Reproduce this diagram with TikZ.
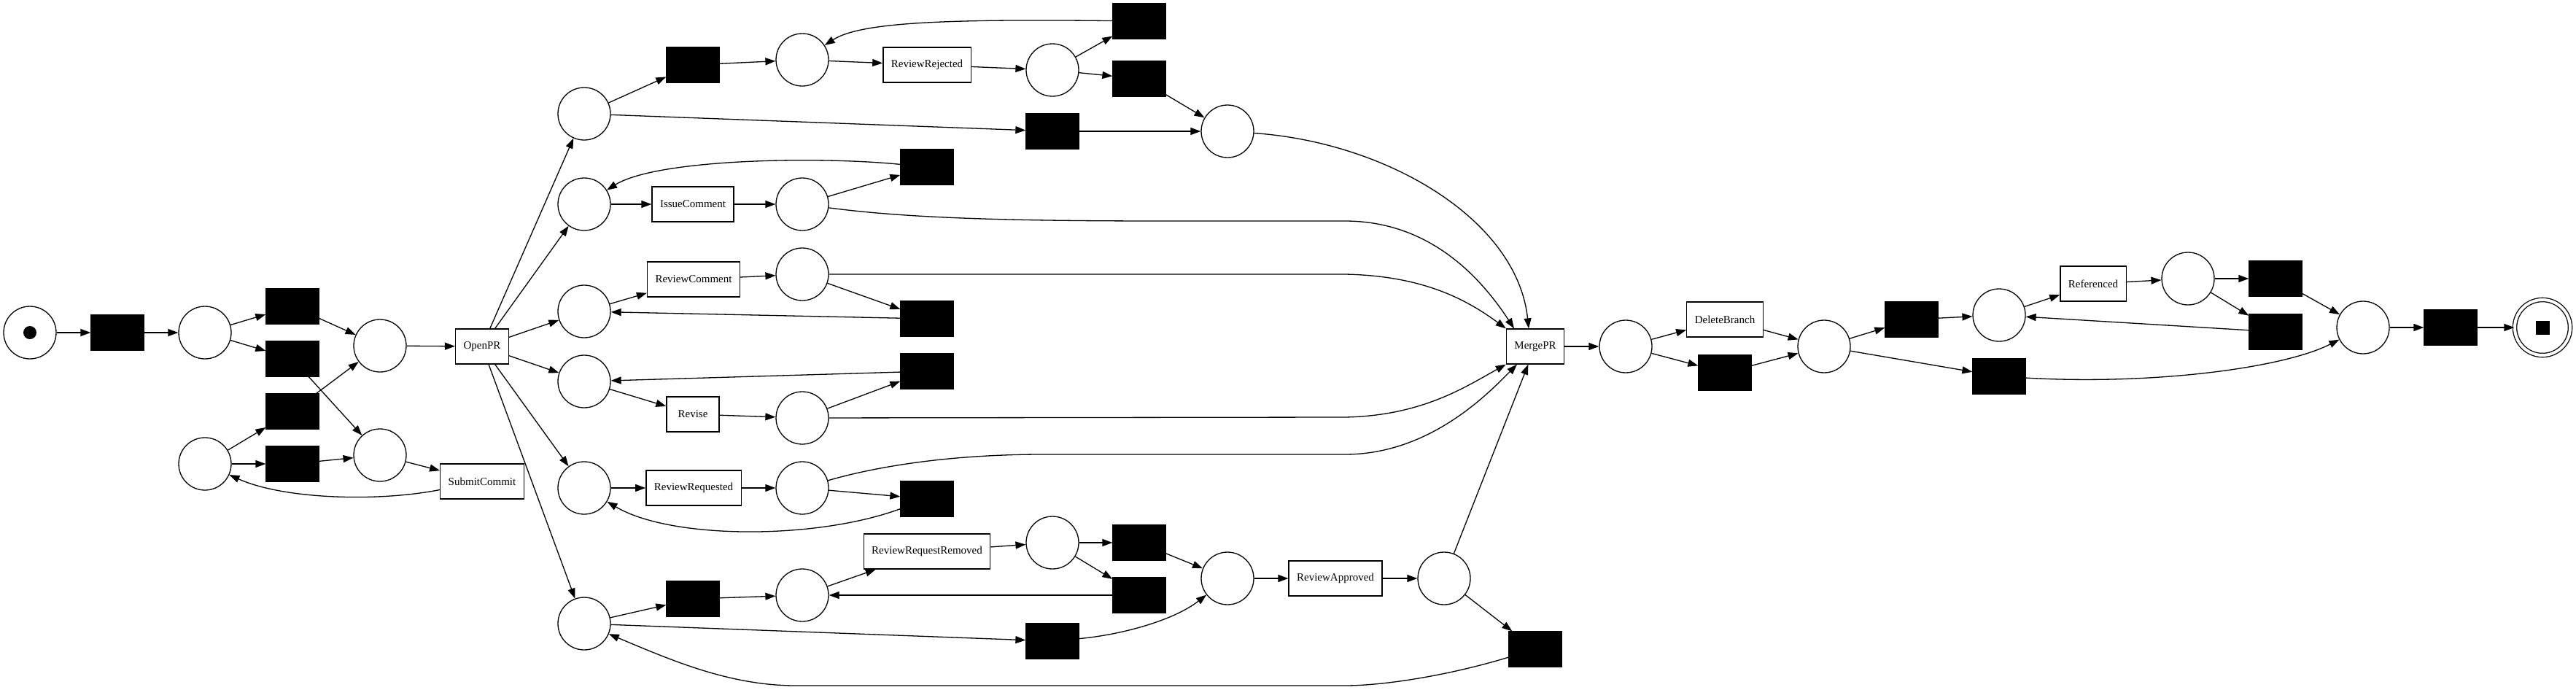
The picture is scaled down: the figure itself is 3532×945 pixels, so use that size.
\documentclass[tikz,border=0pt]{standalone}
\usepackage{fontspec}
\setmainfont{Liberation Serif}
\usetikzlibrary{arrows.meta}
\tikzset{
  place/.style={circle, draw, line width=1.3pt, minimum size=72pt, inner sep=0pt},
  silent/.style={rectangle, draw, fill=black, line width=1.3pt, minimum width=72pt, minimum height=48pt, inner sep=0pt},
  trans/.style={rectangle, draw, line width=1.3pt, minimum width=72pt, minimum height=48pt, inner xsep=11pt, inner ysep=0pt, font=\fontsize{15pt}{18pt}\selectfont},
  arc/.style={draw, line width=1.3pt, -{Triangle[length=14pt,width=10pt]}},
}
\begin{document}
\begin{tikzpicture}[x=1pt, y=-1pt]
\useasboundingbox (0,0) rectangle (3532,945);
% places
\node[place] (ps) at (41,456) {};
\node[circle, fill=black, minimum size=18pt, inner sep=0pt] (pstok) at (ps) {};
\node[place] (p2) at (281,456) {};
\node[place] (p3) at (521,474) {};
\node[place] (p4) at (281,636) {};
\node[place] (p5) at (521,624) {};
\node[place] (pa) at (801,156) {};
\node[place] (pa2) at (1100,82) {};
\node[place] (pa3) at (1443,96) {};
\node[place] (pa4) at (1683,180) {};
\node[place] (pb) at (801,280) {};
\node[place] (pb2) at (1100,280) {};
\node[place] (pc) at (801,427) {};
\node[place] (pc2) at (1100,376) {};
\node[place] (pd) at (801,523) {};
\node[place] (pd2) at (1100,573) {};
\node[place] (pe) at (801,669) {};
\node[place] (pe2) at (1100,669) {};
\node[place] (pf) at (801,855) {};
\node[place] (pf2) at (1100,816) {};
\node[place] (pf3) at (1443,744) {};
\node[place] (pg) at (1683,793) {};
\node[place] (pg2) at (1980,793) {};
\node[place] (ph) at (2229,475) {};
\node[place] (ph2) at (2501,475) {};
\node[place] (ph3) at (2741,432) {};
\node[place] (pi) at (3000,382) {};
\node[place] (pj) at (3240,449) {};
\node[circle, draw, line width=1.3pt, double, double distance=4pt, minimum size=76pt, inner sep=0pt] (pend) at (3486,449) {};
\node[rectangle, fill=black, minimum size=19pt, inner sep=0pt] (pendtok) at (pend) {};
% silent transitions
\node[silent] (t1) at (161,456) {};
\node[silent] (t2) at (401,420) {};
\node[silent] (t3) at (401,492) {};
\node[silent] (t4) at (401,564) {};
\node[silent] (t5) at (401,636) {};
\node[silent] (ta1) at (950,89) {};
\node[silent] (ta2) at (1562,29) {};
\node[silent] (ta3) at (1562,108) {};
\node[silent] (ta4) at (1443,180) {};
\node[silent] (tb1) at (1271,229) {};
\node[silent] (tc1) at (1271,437) {};
\node[silent] (td1) at (1271,509) {};
\node[silent] (te1) at (1271,684) {};
\node[silent] (tf1) at (950,821) {};
\node[silent] (tf2) at (1562,744) {};
\node[silent] (tf3) at (1562,816) {};
\node[silent] (tf4) at (1443,879) {};
\node[silent] (tg1) at (2105,890) {};
\node[silent] (th1) at (2365,511) {};
\node[silent] (th2) at (2621,438) {};
\node[silent] (th3) at (2741,516) {};
\node[silent] (ti1) at (3120,382) {};
\node[silent] (ti2) at (3120,455) {};
\node[silent] (tj1) at (3360,449) {};
% labelled transitions
\node[trans] (OpenPR) at (661,475) {OpenPR};
\node[trans] (SubmitCommit) at (661,660) {SubmitCommit};
\node[trans] (ReviewRejected) at (1271,89) {ReviewRejected};
\node[trans] (IssueComment) at (950,280) {IssueComment};
\node[trans] (ReviewComment) at (951,383) {ReviewComment};
\node[trans] (Revise) at (950,568) {Revise};
\node[trans] (ReviewRequested) at (951,669) {ReviewRequested};
\node[trans] (ReviewRequestRemoved) at (1271,756) {ReviewRequestRemoved};
\node[trans] (ReviewApproved) at (1831,793) {ReviewApproved};
\node[trans] (MergePR) at (2105,475) {MergePR};
\node[trans] (DeleteBranch) at (2365,438) {DeleteBranch};
\node[trans] (Referenced) at (2870,389) {Referenced};
% arcs: start
\draw[arc] (ps) -- (t1);
\draw[arc] (t1) -- (p2);
\draw[arc] (p2) -- (t2);
\draw[arc] (p2) -- (t3);
\draw[arc] (t2) -- (p3);
\draw[arc] (t3) -- (p5);
\draw[arc] (p4) -- (t4);
\draw[arc] (p4) -- (t5);
\draw[arc] (t4) -- (p3);
\draw[arc] (t5) -- (p5);
\draw[arc] (p3) -- (OpenPR);
\draw[arc] (p5) -- (SubmitCommit);
\draw[arc] (SubmitCommit) .. controls (520,688) and (390,685) .. (p4);
% branch a
\draw[arc] (OpenPR) -- (pa);
\draw[arc] (pa) -- (ta1);
\draw[arc] (ta1) -- (pa2);
\draw[arc] (pa2) -- (ReviewRejected);
\draw[arc] (ReviewRejected) -- (pa3);
\draw[arc] (pa3) -- (ta2);
\draw[arc] (pa3) -- (ta3);
\draw[arc] (ta2) .. controls (1300,26) and (1180,30) .. (pa2);
\draw[arc] (ta3) -- (pa4);
\draw[arc] (pa) -- (ta4);
\draw[arc] (ta4) -- (pa4);
\draw[arc] (pa4) .. controls (1900,195) and (2080,300) .. ([xshift=-9pt]MergePR.north);
% branch b
\draw[arc] (OpenPR) -- (pb);
\draw[arc] (pb) -- (IssueComment);
\draw[arc] (IssueComment) -- (pb2);
\draw[arc] (pb2) -- (tb1);
\draw[arc] (tb1) .. controls (1120,214) and (900,218) .. (pb);
\draw[arc] (pb2) .. controls (1250,300) and (1400,303) .. (1600,303) -- (1844,303) .. controls (1960,303) and (2030,380) .. ([xshift=-29pt]MergePR.north);
% branch c
\draw[arc] (OpenPR) -- (pc);
\draw[arc] (pc) -- (ReviewComment);
\draw[arc] (ReviewComment) -- (pc2);
\draw[arc] (pc2) -- (tc1);
\draw[arc] (tc1) -- (pc);
\draw[arc] (pc2) -- (1844,376) .. controls (1950,378) and (2010,410) .. (MergePR.north west);
% branch d
\draw[arc] (OpenPR) -- (pd);
\draw[arc] (pd) -- (Revise);
\draw[arc] (Revise) -- (pd2);
\draw[arc] (pd2) -- (td1);
\draw[arc] (td1) -- (pd);
\draw[arc] (pd2) -- (1844,572) .. controls (1950,570) and (2010,530) .. (MergePR.south west);
% branch e
\draw[arc] (OpenPR) -- (pe);
\draw[arc] (pe) -- (ReviewRequested);
\draw[arc] (ReviewRequested) -- (pe2);
\draw[arc] (pe2) -- (te1);
\draw[arc] (te1) .. controls (1120,740) and (920,740) .. (pe);
\draw[arc] (pe2) .. controls (1200,640) and (1300,623) .. (1430,623) -- (1844,623) .. controls (1960,623) and (2040,540) .. ([xshift=-25pt]MergePR.south);
% branch f
\draw[arc] (OpenPR) -- (pf);
\draw[arc] (pf) -- (tf1);
\draw[arc] (tf1) -- (pf2);
\draw[arc] (pf2) -- (ReviewRequestRemoved);
\draw[arc] (ReviewRequestRemoved) -- (pf3);
\draw[arc] (pf3) -- (tf2);
\draw[arc] (pf3) -- (tf3);
\draw[arc] (tf3) -- (pf2);
\draw[arc] (tf2) -- (pg);
\draw[arc] (pf) -- (tf4);
\draw[arc] (tf4) .. controls (1540,870) and (1610,850) .. (pg);
\draw[arc] (pg) -- (ReviewApproved);
\draw[arc] (ReviewApproved) -- (pg2);
\draw[arc] (pg2) -- (MergePR);
\draw[arc] (pg2) -- (tg1);
\draw[arc] (tg1) .. controls (1990,925) and (1900,940) .. (1844,940) -- (1091,940) .. controls (1000,940) and (920,905) .. (pf);
% end part
\draw[arc] (MergePR) -- (ph);
\draw[arc] (ph) -- (DeleteBranch);
\draw[arc] (ph) -- (th1);
\draw[arc] (DeleteBranch) -- (ph2);
\draw[arc] (th1) -- (ph2);
\draw[arc] (ph2) -- (th2);
\draw[arc] (ph2) -- (th3);
\draw[arc] (th2) -- (ph3);
\draw[arc] (ph3) -- (Referenced);
\draw[arc] (Referenced) -- (pi);
\draw[arc] (pi) -- (ti1);
\draw[arc] (pi) -- (ti2);
\draw[arc] (ti2) -- (ph3);
\draw[arc] (ti1) -- (pj);
\draw[arc] (th3) .. controls (2950,528) and (3130,505) .. (pj);
\draw[arc] (pj) -- (tj1);
\draw[arc] (tj1) -- (pend);
\end{tikzpicture}
\end{document}
